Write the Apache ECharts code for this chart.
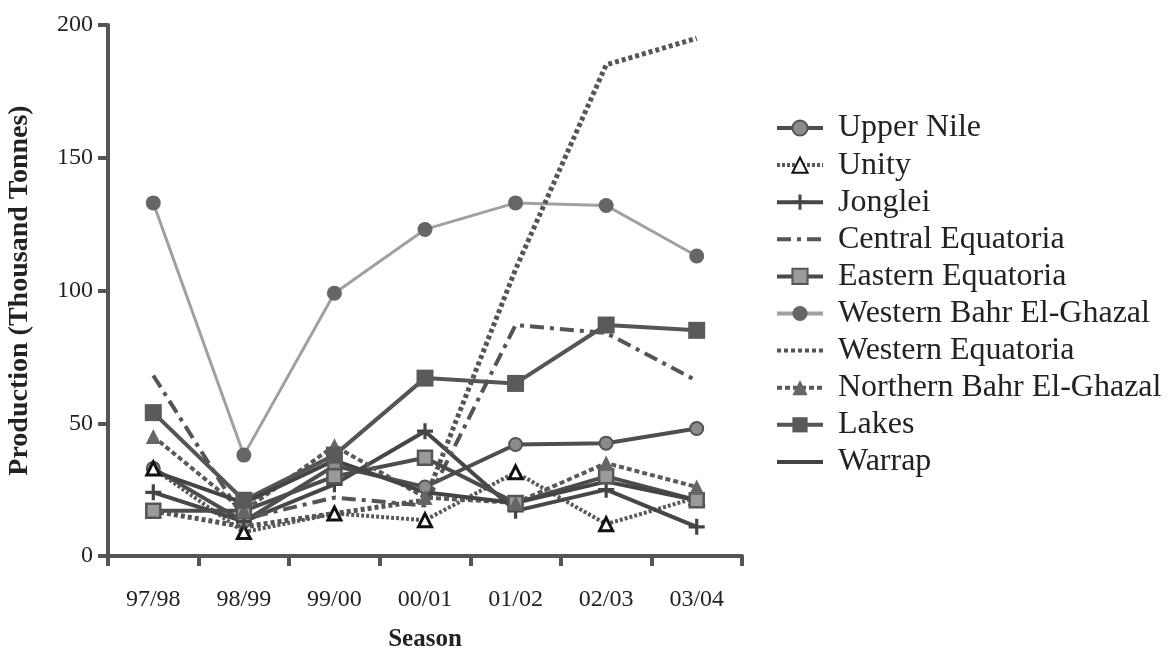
<!DOCTYPE html>
<html>
<head>
<meta charset="utf-8">
<script src="https://cdn.jsdelivr.net/npm/echarts@6/dist/echarts.min.js"></script>
<style>
  html, body { margin: 0; padding: 0; background: #fff; }
  #chart { width: 1168px; height: 653px; }
</style>
</head>
<body>
<div id="chart"></div>
<script>
// Seasons on the category axis
const seasons = ['97/98', '98/99', '99/00', '00/01', '01/02', '02/03', '03/04'];

// Production by state, thousand tonnes
const upperNile        = [33, 13, 34, 26, 42, 42.5, 48];
const unity            = [33, 9, 16, 13.5, 31.5, 12, 22];
const jonglei          = [24, 13, 27, 47, 17, 25, 11];
const centralEquatoria = [68, 14, 22, 19, 87, 84, 66];
const easternEquatoria = [17, 17, 30, 37, 20, 30, 21];
const westernBahr      = [133, 38, 99, 123, 133, 132, 113];
const westernEquatoria = [17, 11, 16, 21, 108, 185, 195];
const northernBahr     = [45, 17, 41.5, 22, 20, 35, 26];
const lakes            = [54, 21, 38, 67, 65, 87, 85];
const warrap           = [32, 20, 36, 24, 20, 28, 21];

// Value axis ticks
const yTicks = { min: 0, max: 200, interval: 50 };

const serif = 'Liberation Serif';
const plus = 'path://M4,0h2v4h4v2h-4v4h-2v-4h-4v-2h4z';

function line(name, data, opts) {
  return Object.assign({
    name: name,
    type: 'line',
    data: data,
    symbol: 'none',
    symbolSize: 12,
    animation: false,
    lineStyle: { color: '#505050', width: 4, type: 'solid' },
    // lines without markers keep a transparent item colour so their legend icon is a bare line
    itemStyle: { color: 'rgba(0,0,0,0)', borderWidth: 0 },
    emphasis: { disabled: true }
  }, opts);
}

const series = [
  line('Upper Nile', upperNile, {
    symbol: 'circle', symbolSize: 13,
    lineStyle: { color: '#4e4e4e', width: 4 },
    itemStyle: { color: '#8c8c8c', borderColor: '#555', borderWidth: 2 }
  }),
  line('Unity', unity, {
    symbol: 'triangle', symbolSize: 13,
    lineStyle: { color: '#5a5a5a', width: 4, type: [3, 2] },
    itemStyle: { color: '#fff', borderColor: '#111', borderWidth: 3 }
  }),
  line('Jonglei', jonglei, {
    symbol: plus, symbolSize: 16,
    lineStyle: { color: '#474747', width: 4 },
    itemStyle: { color: '#444' }
  }),
  line('Central Equatoria', centralEquatoria, {
    lineStyle: { color: '#555', width: 4, type: [14, 6, 4, 6] }
  }),
  line('Eastern Equatoria', easternEquatoria, {
    symbol: 'rect', symbolSize: 14,
    lineStyle: { color: '#4c4c4c', width: 4 },
    itemStyle: { color: '#9a9a9a', borderColor: '#555', borderWidth: 2.5 }
  }),
  line('Western Bahr El-Ghazal', westernBahr, {
    symbol: 'circle', symbolSize: 15,
    lineStyle: { color: '#a0a0a0', width: 3 },
    itemStyle: { color: '#666' }
  }),
  line('Western Equatoria', westernEquatoria, {
    lineStyle: { color: '#555', width: 5, type: [4, 3] }
  }),
  line('Northern Bahr El-Ghazal', northernBahr, {
    symbol: 'triangle', symbolSize: 15,
    lineStyle: { color: '#5a5a5a', width: 4, type: [5, 3] },
    itemStyle: { color: '#666' }
  }),
  line('Lakes', lakes, {
    symbol: 'rect', symbolSize: 17,
    lineStyle: { color: '#555', width: 4 },
    itemStyle: { color: '#5a5a5a' }
  }),
  line('Warrap', warrap, {
    lineStyle: { color: '#444', width: 4 }
  })
];

const chart = echarts.init(document.getElementById('chart'), null, { renderer: 'canvas' });
chart.setOption({
  backgroundColor: '#fff',
  animation: false,
  grid: { left: 108, right: 426, top: 25, bottom: 97, containLabel: false, outerBoundsMode: 'none' },
  legend: {
    orient: 'vertical',
    left: 770,
    top: 107,
    itemWidth: 46,
    itemHeight: 19,
    itemGap: 5.1,
    selectedMode: false,
    lineStyle: { width: 4 },
    textStyle: {
      fontFamily: serif, fontSize: 32, lineHeight: 32, color: '#222',
      padding: [0, 0, 0, 10]
    },
    data: series.map(s => s.name)
  },
  xAxis: {
    type: 'category',
    data: seasons,
    boundaryGap: true,
    name: 'Season',
    nameLocation: 'middle',
    nameGap: 71,
    nameTextStyle: { fontFamily: serif, fontSize: 25, fontWeight: 'bold', color: '#222' },
    axisLine: { lineStyle: { color: '#555', width: 4 } },
    axisTick: { show: true, length: 10, lineStyle: { color: '#555', width: 4 }, alignWithLabel: false },
    axisLabel: { fontFamily: serif, fontSize: 24, color: '#222', margin: 32 },
    splitLine: { show: false }
  },
  yAxis: {
    type: 'value',
    min: yTicks.min,
    max: yTicks.max,
    interval: yTicks.interval,
    name: 'Production (Thousand Tonnes)',
    nameLocation: 'middle',
    nameGap: 74,
    nameTextStyle: { fontFamily: serif, fontSize: 28, fontWeight: 'bold', color: '#222' },
    axisLine: { show: true, lineStyle: { color: '#555', width: 4 } },
    axisTick: { show: true, length: 10, lineStyle: { color: '#555', width: 4 } },
    axisLabel: { fontFamily: serif, fontSize: 24, color: '#222', margin: 15 },
    splitLine: { show: false }
  },
  series: series
});
</script>
</body>
</html>
